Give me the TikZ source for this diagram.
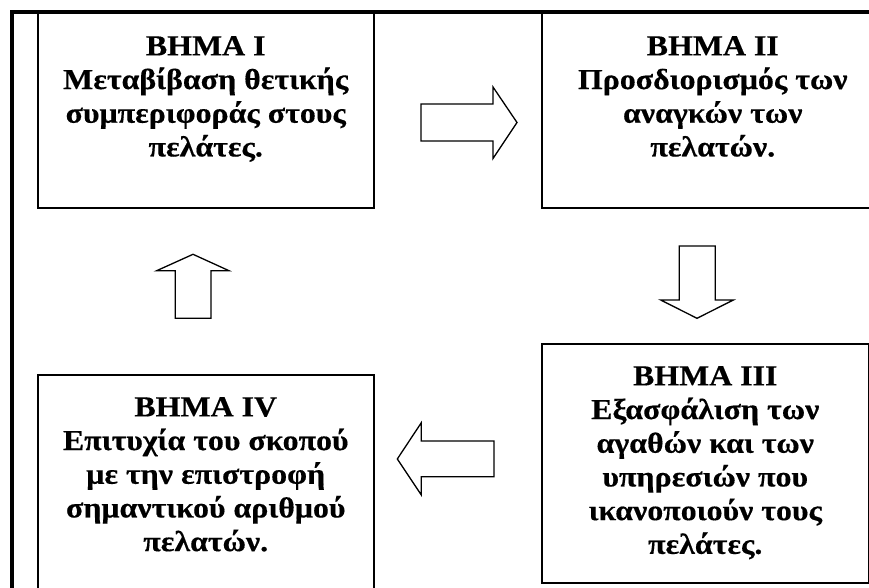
\documentclass[tikz,border=0pt]{standalone}
\usepackage{fontspec}
\setmainfont{Liberation Serif}[BoldFeatures={FakeStretch=1.1,FakeBold=0.4}]
\usetikzlibrary{positioning}
\tikzset{stepbox/.style={rectangle,draw,line width=1.5pt,anchor=north west,inner sep=0pt},steptext/.style={align=center,inner sep=0pt,font=\fontsize{29}{33.7}\selectfont\bfseries},blockarrow/.style={draw,line width=1.3pt,line join=miter}}

\begin{document}
\begin{tikzpicture}[x=1pt,y=-1pt]
\useasboundingbox (0,0) rectangle (869,588);
\node[stepbox, minimum width=336pt, minimum height=195pt] (s1) at (37,12) {};
\node[stepbox, minimum width=342pt, minimum height=195pt] (s2) at (541,12) {};
\node[stepbox, minimum width=327pt, minimum height=239pt] (s3) at (541,343) {};
\node[stepbox, minimum width=336pt, minimum height=240pt] (s4) at (37,374) {};
\node[steptext, below=24pt of s1.north] (t1) {ΒΗΜΑ I\\Μεταβίβαση θετικής\\συμπεριφοράς στους\\πελάτες.};
\node[steptext, below=24pt of s2.north] (t2) {ΒΗΜΑ II\\Προσδιορισμός των\\αναγκών των\\πελατών.};
\node[steptext, below=23pt of s3.north] (t3) {ΒΗΜΑ III\\Εξασφάλιση των\\αγαθών και των\\υπηρεσιών που\\ικανοποιούν τους\\πελάτες.};
\node[steptext, below=23pt of s4.north] (t4) {ΒΗΜΑ IV\\Επιτυχία του σκοπού\\με την επιστροφή\\σημαντικού αριθμού\\πελατών.};
% block arrows between the steps
\draw[blockarrow] (421,104) -- (493,104) -- (493,87) -- (517,122.5) -- (493,158.5) -- (493,141) -- (421,141) -- cycle;
\draw[blockarrow] (679.3,246) -- (715.3,246) -- (715.3,300) -- (733.3,300) -- (697,318.3) -- (660.7,300) -- (679.3,300) -- cycle;
\draw[blockarrow] (494,441) -- (421.3,441) -- (421.3,422.7) -- (397.3,459) -- (421.3,495) -- (421.3,476.7) -- (494,476.7) -- cycle;
\draw[blockarrow] (175.3,318.3) -- (175.3,270.7) -- (156.7,270.7) -- (193,254.3) -- (229,270.7) -- (211,270.7) -- (211,318.3) -- cycle;
% page frame
\draw[line width=3.5pt] (12,620) |- (890,12);
\end{tikzpicture}
\end{document}
